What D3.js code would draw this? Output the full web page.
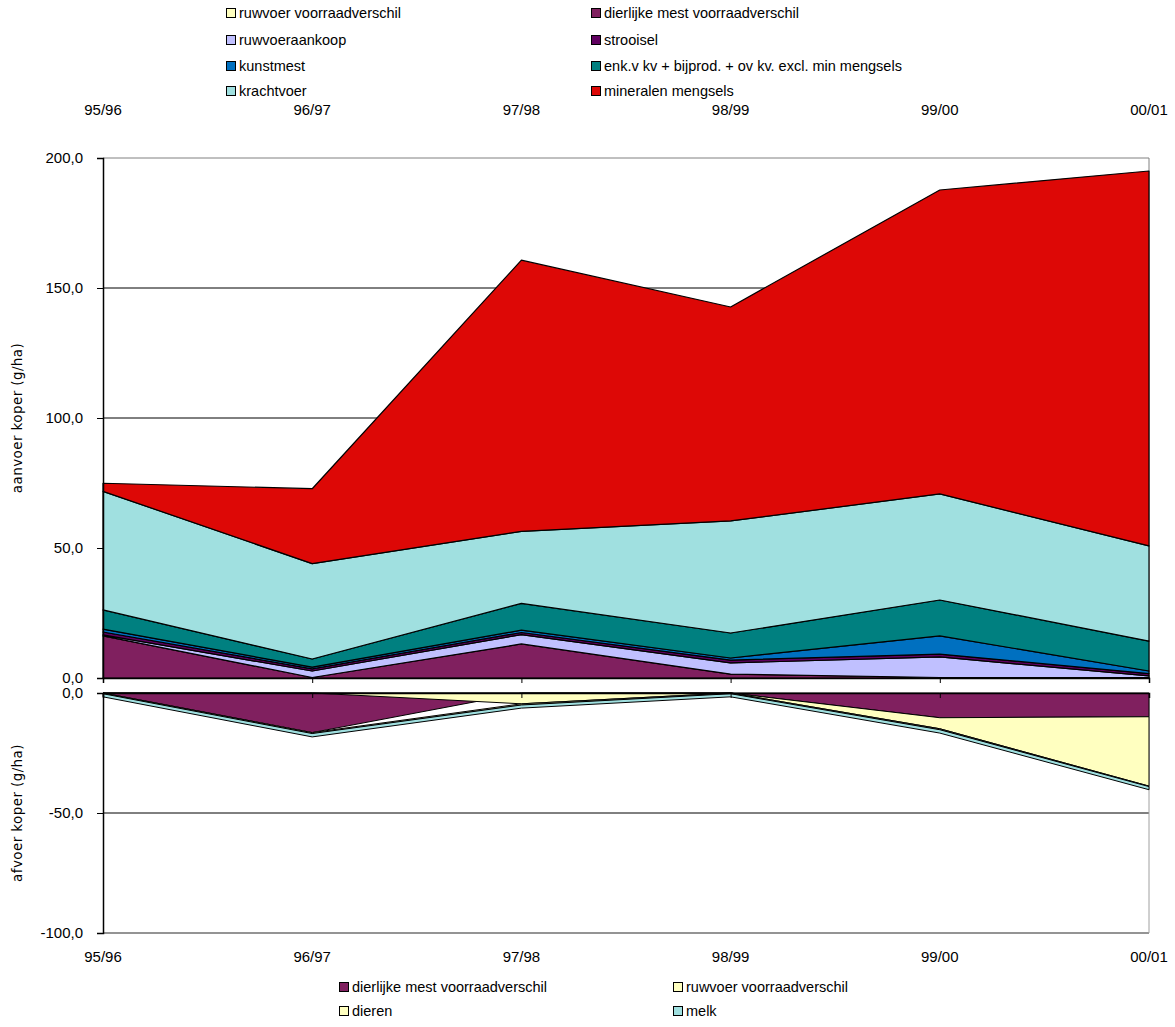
<!DOCTYPE html>
<html>
<head>
<meta charset="utf-8">
<script src="https://cdn.jsdelivr.net/npm/d3@7/dist/d3.min.js"></script>
<style>
  body { margin: 0; background: #fff; }
  svg text { font-family: "Liberation Sans", Arial, sans-serif; }
</style>
</head>
<body>
<svg id="chart" width="1175" height="1027"></svg>
<script>
// ---------- data ----------
const categories = ["95/96", "96/97", "97/98", "98/99", "99/00", "00/01"];

// aanvoer (upper chart), stacked bottom -> top
const aanvoerSeries = [
  "ruwvoer voorraadverschil",
  "dierlijke mest voorraadverschil",
  "ruwvoeraankoop",
  "strooisel",
  "kunstmest",
  "enk.v kv + bijprod. + ov kv. excl. min mengsels",
  "krachtvoer",
  "mineralen mengsels"
];
const ruwvoerVoorraadPos   = [0, 0, 0, 0, 0, 0];
const dierlijkeMestPos     = [16.2, 0.2, 13.1, 1.5, 0.2, 0.2];
const ruwvoeraankoop       = [0.4, 2.5, 3.6, 4.3, 7.9, 0.6];
const strooisel            = [1.1, 0.8, 0.8, 1.1, 1.1, 0.9];
const kunstmest            = [1.1, 0.7, 0.9, 0.8, 7.0, 1.0];
const enkvKv               = [7.4, 3.1, 10.3, 9.6, 13.8, 11.5];
const krachtvoer           = [45.6, 36.7, 27.7, 43.1, 40.8, 36.6];
const mineralenMengsels    = [3.1, 28.8, 104.3, 82.3, 116.9, 144.2];

// afvoer (lower chart), stacked from 0 downward
const afvoerSeries = ["dierlijke mest voorraadverschil", "ruwvoer voorraadverschil", "dieren", "melk"];
const dierlijkeMestNeg = [0, -16.5, 0, 0, -10.3, -9.9];
const ruwvoerNeg       = [0, 0, -4.5, 0, -4.6, -28.9];
const dieren           = [-0.3, -0.4, -0.5, -0.3, -0.4, -0.2];
const melk             = [-1.3, -1.4, -1.3, -1.3, -1.4, -1.3];

const topTicks = [0, 50, 100, 150, 200];
const bottomTicks = [-100, -50, 0];

// ---------- styles ----------
const aanvoerColors = ["#FFFFC0", "#80205F", "#C0C0FF", "#600060", "#0070C0", "#008080", "#A0E0E0", "#DD0806"];
const afvoerColors = ["#80205F", "#FFFFC0", "#FFFFC0", "#A0E0E0"];
const axisFont = 15, legendFont = 14.5;

const svg = d3.select("#chart");
const left = 103, right = 1149;
const x = d3.scalePoint().domain(categories).range([left, right]);
const yTop = d3.scaleLinear().domain([0, 200]).range([678, 158]);
const yBot = d3.scaleLinear().domain([-100, 0]).range([933, 693]);
const fmt = d => d3.format(".1f")(d).replace(".", ",").replace("\u2212", "-");

// ---------- upper chart ----------
const aanvoerValues = [ruwvoerVoorraadPos, dierlijkeMestPos, ruwvoeraankoop, strooisel, kunstmest, enkvKv, krachtvoer, mineralenMengsels];
const topRows = categories.map((c, i) => {
  const r = { cat: c };
  aanvoerSeries.forEach((s, j) => r[s] = aanvoerValues[j][i]);
  return r;
});
const topStack = d3.stack().keys(aanvoerSeries)(topRows);

svg.append("g").selectAll("line").data([50, 100, 150]).join("line")
  .attr("x1", left).attr("x2", right)
  .attr("y1", d => yTop(d)).attr("y2", d => yTop(d))
  .attr("stroke", "#000").attr("stroke-width", 1);
svg.append("line").attr("x1", left).attr("x2", right)
  .attr("y1", yTop(200)).attr("y2", yTop(200)).attr("stroke", "#808080");
svg.append("line").attr("x1", right).attr("x2", right)
  .attr("y1", yTop(200)).attr("y2", yTop(0)).attr("stroke", "#808080");

const areaTop = d3.area()
  .x(d => x(d.data.cat))
  .y0(d => yTop(d[0]))
  .y1(d => yTop(d[1]));
svg.append("g").selectAll("path").data(topStack).join("path")
  .attr("d", areaTop)
  .attr("fill", (d, i) => aanvoerColors[i])
  .attr("stroke", "#000").attr("stroke-width", 1.2).attr("stroke-linejoin", "round");

const yAxisTop = d3.axisLeft(yTop).tickValues(topTicks).tickFormat(fmt).tickSize(6).tickPadding(14);
const gYT = svg.append("g").attr("transform", `translate(${left},0)`).call(yAxisTop);
gYT.select(".domain").attr("stroke", "#000").attr("stroke-width", 1.5);
gYT.selectAll("text").attr("font-size", axisFont).attr("fill", "#000");

const xAxisTop = d3.axisBottom(x).tickSize(5).tickFormat("");
const gXT = svg.append("g").attr("transform", `translate(0,${yTop(0)})`).call(xAxisTop);
gXT.select(".domain").attr("stroke", "#000").attr("stroke-width", 1.5);
svg.append("g").selectAll("text").data(categories).join("text")
  .attr("x", d => x(d)).attr("y", 115)
  .attr("text-anchor", "middle").attr("font-size", axisFont).text(d => d);

svg.append("text")
  .attr("transform", `translate(22,${(yTop(0) + yTop(200)) / 2}) rotate(-90)`)
  .attr("text-anchor", "middle")
  .style("font-family", "'DejaVu Sans', Verdana, sans-serif")
  .attr("font-size", 13.5).attr("letter-spacing", 0.4)
  .text("aanvoer koper (g/ha)");

// ---------- lower chart ----------
const afvoerValues = [dierlijkeMestNeg, ruwvoerNeg, dieren, melk];
const botRows = categories.map((c, i) => {
  const r = { cat: c };
  afvoerSeries.forEach((s, j) => r[s] = afvoerValues[j][i]);
  return r;
});
const botStack = d3.stack().keys(afvoerSeries).offset(d3.stackOffsetDiverging)(botRows);

svg.append("line").attr("x1", left).attr("x2", right)
  .attr("y1", yBot(-50)).attr("y2", yBot(-50)).attr("stroke", "#000");
svg.append("line").attr("x1", left).attr("x2", right)
  .attr("y1", yBot(-100)).attr("y2", yBot(-100)).attr("stroke", "#707070").attr("stroke-width", 1.5);
svg.append("line").attr("x1", right).attr("x2", right)
  .attr("y1", yBot(0)).attr("y2", yBot(-100)).attr("stroke", "#a0a0a0");

const areaBot = d3.area()
  .x(d => x(d.data.cat))
  .y0(d => yBot(d[0]))
  .y1(d => yBot(d[1]));
svg.append("g").selectAll("path").data(botStack).join("path")
  .attr("d", areaBot)
  .attr("fill", (d, i) => afvoerColors[i])
  .attr("stroke", "#000").attr("stroke-width", 1).attr("stroke-linejoin", "round");

const yAxisBot = d3.axisLeft(yBot).tickValues(bottomTicks).tickFormat(fmt).tickSize(6).tickPadding(14);
const gYB = svg.append("g").attr("transform", `translate(${left},0)`).call(yAxisBot);
gYB.select(".domain").attr("stroke", "#000").attr("stroke-width", 1.5);
gYB.selectAll("text").attr("font-size", axisFont).attr("fill", "#000");

const xAxisBot = d3.axisBottom(x).tickSize(5).tickFormat("");
const gXB = svg.append("g").attr("transform", `translate(0,${yBot(0)})`).call(xAxisBot);
gXB.select(".domain").attr("stroke", "#000").attr("stroke-width", 1.5);
svg.append("g").selectAll("text").data(categories).join("text")
  .attr("x", d => x(d)).attr("y", 962)
  .attr("text-anchor", "middle").attr("font-size", axisFont).text(d => d);

svg.append("text")
  .attr("transform", `translate(22,${(yBot(0) + yBot(-100)) / 2}) rotate(-90)`)
  .attr("text-anchor", "middle")
  .style("font-family", "'DejaVu Sans', Verdana, sans-serif")
  .attr("font-size", 13.5).attr("letter-spacing", 0.4)
  .text("afvoer koper (g/ha)");

// ---------- legends ----------
function legend(items, colors, cols, rowYs) {
  const g = svg.append("g");
  items.forEach((name, i) => {
    const c = cols[i % 2], yy = rowYs[Math.floor(i / 2)];
    g.append("rect").attr("x", c - 4.5).attr("y", yy - 4.5).attr("width", 9).attr("height", 9)
      .attr("fill", colors[i]).attr("stroke", "#000").attr("stroke-width", 1);
    g.append("text").attr("x", c + 8).attr("y", yy + 5).attr("font-size", legendFont).text(name);
  });
}
legend(aanvoerSeries, aanvoerColors, [231, 596], [13, 40, 66, 91]);
legend(afvoerSeries, afvoerColors, [344, 678], [987, 1011]);
</script>
</body>
</html>
